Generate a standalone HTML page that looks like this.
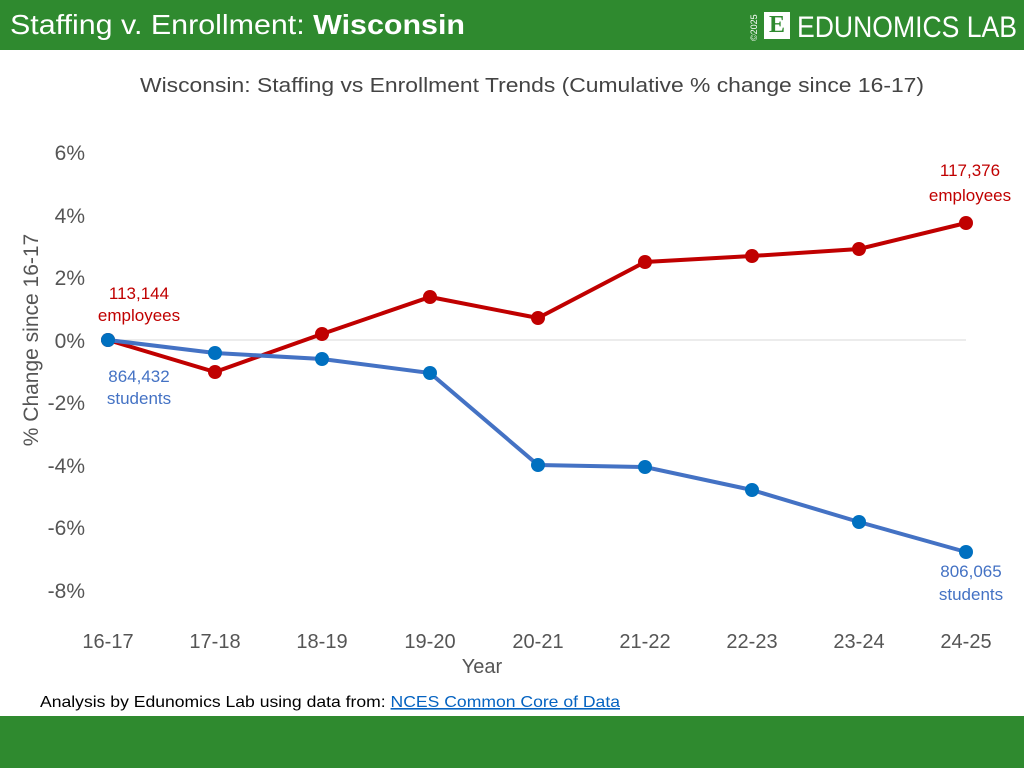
<!DOCTYPE html>
<html><head><meta charset="utf-8"><style>
body{margin:0;width:1024px;height:768px;background:#fff;position:relative;overflow:hidden;font-family:"Liberation Sans",sans-serif}
.hdr{position:absolute;left:0;top:0;width:1024px;height:50px;background:#2f8a2f}
.ftr{position:absolute;left:0;top:716px;width:1024px;height:52px;background:#2f8a2f}
</style></head><body>
<div class="hdr">
<div style="position:absolute;left:764px;top:12px;width:26px;height:27px;background:#fff;color:#2f8a2f;font-weight:bold;font-size:24px;line-height:27px;text-align:center;font-family:'Liberation Serif',serif">E</div>
</div>
<svg width="1024" height="768" style="position:absolute;left:0;top:0" font-family="Liberation Sans, sans-serif">
<text x="10" y="34" font-size="28" fill="#fff" textLength="455" lengthAdjust="spacingAndGlyphs">Staffing v. Enrollment: <tspan font-weight="bold">Wisconsin</tspan></text>
<text transform="translate(757,41) rotate(-90)" font-size="9" fill="#fff">©2025</text>
<text x="797" y="37" font-size="30" fill="#fff" textLength="220" lengthAdjust="spacingAndGlyphs">EDUNOMICS LAB</text>
<text x="140" y="92" font-size="20" fill="#444" textLength="784" lengthAdjust="spacingAndGlyphs">Wisconsin: Staffing vs Enrollment Trends (Cumulative % change since 16-17)</text>
<line x1="108" y1="340" x2="966" y2="340" stroke="#d9d9d9"/>
<g font-size="21" fill="#555" text-anchor="end">
<text x="85" y="160">6%</text><text x="85" y="223">4%</text><text x="85" y="285">2%</text><text x="85" y="348">0%</text><text x="85" y="410">-2%</text><text x="85" y="473">-4%</text><text x="85" y="535">-6%</text><text x="85" y="598">-8%</text>
</g>
<g font-size="20" fill="#555" text-anchor="middle">
<text x="108" y="648">16-17</text><text x="215" y="648">17-18</text><text x="322" y="648">18-19</text><text x="430" y="648">19-20</text><text x="538" y="648">20-21</text><text x="645" y="648">21-22</text><text x="752" y="648">22-23</text><text x="859" y="648">23-24</text><text x="966" y="648">24-25</text>
<text x="482" y="673">Year</text>
</g>
<text transform="translate(38,340) rotate(-90)" font-size="21" fill="#555" text-anchor="middle">% Change since 16-17</text>
<polyline fill="none" stroke="#c00000" stroke-width="4" points="108,340 215,372 322,334 430,297 538,318 645,262 752,256 859,249 966,223"/>
<g fill="#c00000"><circle cx="108" cy="340" r="7"/><circle cx="215" cy="372" r="7"/><circle cx="322" cy="334" r="7"/><circle cx="430" cy="297" r="7"/><circle cx="538" cy="318" r="7"/><circle cx="645" cy="262" r="7"/><circle cx="752" cy="256" r="7"/><circle cx="859" cy="249" r="7"/><circle cx="966" cy="223" r="7"/></g>
<polyline fill="none" stroke="#4472c4" stroke-width="4" points="108,340 215,353 322,359 430,373 538,465 645,467 752,490 859,522 966,552"/>
<g fill="#0070c0"><circle cx="108" cy="340" r="7"/><circle cx="215" cy="353" r="7"/><circle cx="322" cy="359" r="7"/><circle cx="430" cy="373" r="7"/><circle cx="538" cy="465" r="7"/><circle cx="645" cy="467" r="7"/><circle cx="752" cy="490" r="7"/><circle cx="859" cy="522" r="7"/><circle cx="966" cy="552" r="7"/></g>
<g font-size="17" fill="#c00000" text-anchor="middle">
<text x="139" y="299">113,144</text><text x="139" y="321">employees</text>
<text x="970" y="176">117,376</text><text x="970" y="201">employees</text>
</g>
<g font-size="17" fill="#4472c4" text-anchor="middle">
<text x="139" y="382">864,432</text><text x="139" y="404">students</text>
<text x="971" y="577">806,065</text><text x="971" y="600">students</text>
</g>
<text x="40" y="707" font-size="16" fill="#000" textLength="580" lengthAdjust="spacingAndGlyphs">Analysis by Edunomics Lab using data from: <tspan fill="#0563c1" text-decoration="underline">NCES Common Core of Data</tspan></text>
</svg>
<div class="ftr"></div>
</body></html>
